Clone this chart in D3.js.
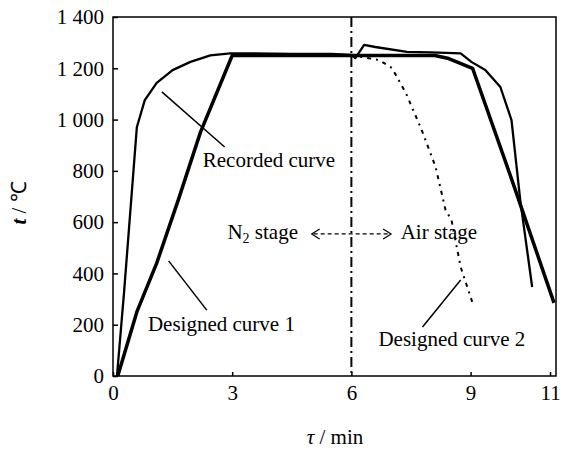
<!DOCTYPE html>
<html>
<head>
<meta charset="utf-8">
<script src="https://cdn.jsdelivr.net/npm/d3@7"></script>
<style>
  body { margin: 0; background: #fff; }
  text { font-family: "Liberation Serif", "Times New Roman", serif; fill: #000; }
</style>
</head>
<body>
<svg width="569" height="450"></svg>
<script>
// data (tau in min, t in degC)
var xTicks = [0, 3, 6, 9, 11];
var yTicks = [0, 200, 400, 600, 800, 1000, 1200, 1400];

var recordedTau = [0.1, 0.28, 0.6, 0.8, 1.1, 1.5, 1.95, 2.45, 2.95, 3.5, 4.5, 5.5, 6.0, 6.1, 6.32, 6.6, 7.4, 8.0, 8.75, 9.02, 9.37, 9.75, 10.03, 10.25, 10.55];
var recordedT   = [0, 330, 970, 1076, 1143, 1193, 1225, 1250, 1258, 1258, 1256, 1256, 1252, 1240, 1291, 1283, 1264, 1262, 1258, 1225, 1193, 1127, 998, 686, 347];

var design1Tau = [0.12, 0.6, 1.1, 1.65, 2.2, 3.0, 6.0, 8.1, 8.45, 9.05, 10.05, 11.1];
var design1T   = [0, 250, 440, 690, 950, 1250, 1250, 1250, 1238, 1200, 760, 285];

var design2Tau = [6.0, 6.27, 6.7, 7.02, 7.37, 7.77, 8.12, 8.37, 8.52, 8.75, 9.05];
var design2T   = [1250, 1244, 1232, 1201, 1104, 959, 815, 647, 608, 425, 285];

var stageSplit = 6;

var svg = d3.select("svg");
var margin = {top: 17, right: 13, bottom: 74, left: 113};
var width = +svg.attr("width");
var height = +svg.attr("height");

var x = d3.scaleLinear().domain([0, 11.15]).range([margin.left, width - margin.right]);
var y = d3.scaleLinear().domain([0, 1400]).range([height - margin.bottom, margin.top]);

var fmt = function(v){ return v >= 1000 ? Math.floor(v / 1000) + " " + d3.format("03")(v % 1000) : String(v); };

// frame
svg.append("rect")
    .attr("x", x(0)).attr("y", y(1400))
    .attr("width", x(11.15) - x(0)).attr("height", y(0) - y(1400))
    .attr("fill", "none").attr("stroke", "#000").attr("stroke-width", 1.5);

// axes with inward ticks
var gx = svg.append("g")
    .attr("transform", "translate(0," + y(0) + ")")
    .call(d3.axisBottom(x).tickValues(xTicks).tickSizeInner(-4).tickSizeOuter(0).tickPadding(9));
var gy = svg.append("g")
    .attr("transform", "translate(" + x(0) + ",0)")
    .call(d3.axisLeft(y).tickValues(yTicks).tickFormat(fmt).tickSizeInner(-5).tickSizeOuter(0).tickPadding(9));
[gx, gy].forEach(function(g){
    g.attr("font-family", null);
    g.select(".domain").remove();
    g.selectAll("line").attr("stroke-width", 1.5);
    g.selectAll("text").attr("font-size", 21).style("font-family", "'Liberation Serif', serif");
});

// axis titles
svg.append("text")
    .attr("x", 335).attr("y", 444)
    .attr("text-anchor", "middle").attr("font-size", 21)
    .html('<tspan font-style="italic">τ</tspan> / min');
svg.append("text")
    .attr("transform", "translate(26,203) rotate(-90)")
    .attr("text-anchor", "middle").attr("font-size", 21)
    .html('<tspan font-style="italic" font-weight="bold">t</tspan> / ℃');

// stage divider
svg.append("line")
    .attr("x1", x(stageSplit)).attr("x2", x(stageSplit))
    .attr("y1", y(1400)).attr("y2", y(0))
    .attr("stroke", "#000").attr("stroke-width", 2)
    .attr("stroke-dasharray", "10,4,2,4");

// curves
var line = d3.line().x(d => x(d[0])).y(d => y(d[1]));
var zip = (a, b) => a.map((v, i) => [v, b[i]]);

svg.append("path").attr("d", line(zip(design1Tau, design1T)))
    .attr("fill", "none").attr("stroke", "#000").attr("stroke-width", 3.5).attr("stroke-linejoin", "round");
svg.append("path").attr("d", line(zip(recordedTau, recordedT)))
    .attr("fill", "none").attr("stroke", "#000").attr("stroke-width", 2.3).attr("stroke-linejoin", "round");
svg.append("path").attr("d", line(zip(design2Tau, design2T)))
    .attr("fill", "none").attr("stroke", "#000").attr("stroke-width", 2)
    .attr("stroke-dasharray", "4,5,2,5");

// labels and leaders
var notes = [
    {text: "Recorded curve", tx: 2.26, ty: 815, l: [[1.23, 1108], [2.81, 893]]},
    {text: "Designed curve 1", tx: 0.88, ty: 176, l: [[1.40, 449], [2.36, 257]]},
    {text: "Designed curve 2", tx: 6.68, ty: 117, l: [[7.79, 191], [8.75, 374]]}
];
notes.forEach(function(n){
    svg.append("text").attr("x", x(n.tx)).attr("y", y(n.ty)).attr("font-size", 21).text(n.text);
    svg.append("line")
        .attr("x1", x(n.l[0][0])).attr("y1", y(n.l[0][1]))
        .attr("x2", x(n.l[1][0])).attr("y2", y(n.l[1][1]))
        .attr("stroke", "#000").attr("stroke-width", 1.5);
});

svg.append("text").attr("x", x(2.88)).attr("y", y(534)).attr("font-size", 21)
    .html('N<tspan font-size="14" dy="4">2</tspan><tspan dy="-4"> stage</tspan>');
svg.append("text").attr("x", x(7.24)).attr("y", y(534)).attr("font-size", 21).text("Air stage");

// double arrow between stages
var ay = y(554), ax0 = x(5.0), ax1 = x(7.0);
svg.append("line")
    .attr("x1", ax0 + 2).attr("x2", ax1 - 2).attr("y1", ay).attr("y2", ay)
    .attr("stroke", "#000").attr("stroke-width", 1.2).attr("stroke-dasharray", "4,3");
svg.append("path")
    .attr("d", "M" + (ax0 + 8) + "," + (ay - 5) + "L" + ax0 + "," + ay + "L" + (ax0 + 8) + "," + (ay + 5)
        + "M" + (ax1 - 8) + "," + (ay - 5) + "L" + ax1 + "," + ay + "L" + (ax1 - 8) + "," + (ay + 5))
    .attr("fill", "none").attr("stroke", "#000").attr("stroke-width", 1.2);
</script>
</body>
</html>
